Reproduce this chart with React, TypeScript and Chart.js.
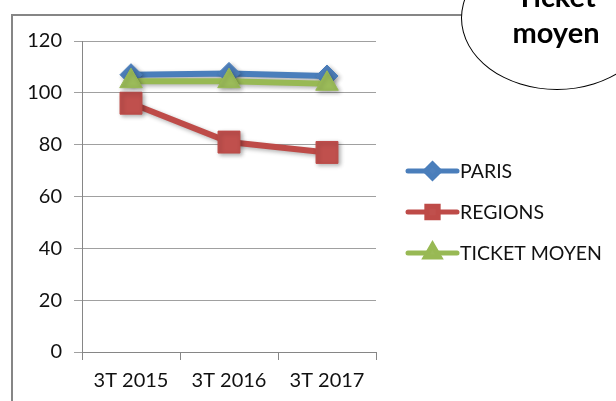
import React, { useEffect, useRef } from 'react';
import { Chart, registerables } from 'chart.js';
import { drawPoint } from 'chart.js/helpers';

Chart.register(...registerables);

const categories = ['3T 2015', '3T 2016', '3T 2017'];
const seriesNames = ['PARIS', 'REGIONS', 'TICKET MOYEN'];
const parisValues = [107, 107.5, 106.5];
const regionsValues = [96, 81, 77];
const ticketMoyenValues = [104.5, 104.5, 103.5];
const yMin = 0;
const yMax = 120;
const yStep = 20;
const calloutLines = ['Ticket', 'moyen'];

const FONT = 'Lato, "Open Sans", sans-serif';

const framePlugin = {
  id: 'frame',
  beforeDraw(chart: any) {
    const ctx = chart.ctx;
    ctx.save();
    ctx.fillStyle = '#ffffff';
    ctx.fillRect(0, 0, chart.width, chart.height);
    ctx.strokeStyle = '#868686';
    ctx.lineWidth = 2;
    ctx.beginPath();
    ctx.moveTo(12, chart.height + 5);
    ctx.lineTo(12, 15);
    ctx.lineTo(chart.width + 5, 15);
    ctx.stroke();
    ctx.restore();
  },
};

const shadowPlugin = {
  id: 'shadow',
  beforeDatasetsDraw(chart: any) {
    const ctx = chart.ctx;
    ctx.save();
    ctx.shadowColor = 'rgba(0,0,0,0.3)';
    ctx.shadowBlur = 4;
    ctx.shadowOffsetX = 2;
    ctx.shadowOffsetY = 2;
  },
  afterDatasetsDraw(chart: any) {
    chart.ctx.restore();
  },
};

const legendPlugin = {
  id: 'excelLegend',
  afterDraw(chart: any) {
    const ctx = chart.ctx;
    const x0 = 408;
    const x1 = 457;
    const baseY = 171;
    const gap = 41;
    const markerRadius = [7, 8, 8];
    chart.data.datasets.forEach((ds: any, i: number) => {
      const y = baseY + i * gap;
      ctx.save();
      ctx.strokeStyle = ds.borderColor;
      ctx.lineWidth = 5;
      ctx.lineCap = 'round';
      ctx.beginPath();
      ctx.moveTo(x0, y);
      ctx.lineTo(x1, y);
      ctx.stroke();
      ctx.fillStyle = ds.pointBackgroundColor;
      ctx.strokeStyle = ds.pointBorderColor;
      drawPoint(ctx, { pointStyle: ds.pointStyle, rotation: 0, radius: markerRadius[i], borderWidth: 1 }, (x0 + x1) / 2, y);
      ctx.fillStyle = '#111111';
      ctx.font = `19.5px ${FONT}`;
      ctx.textAlign = 'left';
      ctx.textBaseline = 'middle';
      ctx.fillText(ds.label, 460, y + 1);
      ctx.restore();
    });
  },
};

export default function App() {
  const canvasRef = useRef<HTMLCanvasElement | null>(null);

  useEffect(() => {
    if (!canvasRef.current) return;
    const gridColor = '#a0a0a0';
    const axisColor = '#868686';
    const chart = new Chart(canvasRef.current, {
      type: 'line',
      data: {
        labels: categories,
        datasets: [
          {
            label: seriesNames[0],
            data: parisValues,
            borderColor: '#4A7EBB',
            backgroundColor: '#4F81BD',
            pointBackgroundColor: '#4F81BD',
            pointBorderColor: '#4A7EBB',
            pointStyle: 'rectRot',
            pointRadius: 11,
            pointBorderWidth: 1,
            borderWidth: 6,
            tension: 0,
            order: 3,
          },
          {
            label: seriesNames[1],
            data: regionsValues,
            borderColor: '#BE4B48',
            backgroundColor: '#C0504D',
            pointBackgroundColor: '#C0504D',
            pointBorderColor: '#BE4B48',
            pointStyle: 'rect',
            pointRadius: 15.5,
            pointBorderWidth: 1,
            borderWidth: 6,
            tension: 0,
            order: 2,
          },
          {
            label: seriesNames[2],
            data: ticketMoyenValues,
            borderColor: '#98B954',
            backgroundColor: '#9BBB59',
            pointBackgroundColor: '#9BBB59',
            pointBorderColor: '#98B954',
            pointStyle: 'triangle',
            pointRadius: 13,
            pointBorderWidth: 1,
            borderWidth: 6,
            tension: 0,
            order: 1,
          },
        ],
      },
      options: {
        responsive: false,
        animation: false,
        devicePixelRatio: 1,
        layout: { padding: { top: 41, left: 0, right: 240, bottom: 0 } },
        plugins: {
          legend: { display: false },
          tooltip: { enabled: false },
        },
        elements: { line: { clip: false } as any },
        scales: {
          x: {
            offset: true,
            grid: {
              offset: true,
              drawOnChartArea: false,
              drawTicks: true,
              tickLength: 8,
              color: axisColor,
              lineWidth: 1,
            },
            border: { color: axisColor, width: 1 },
            ticks: {
              color: '#111111',
              font: { family: FONT, size: 20 },
              padding: 9,
              maxRotation: 0,
            },
            afterFit(scale: any) {
              scale.height = 49;
            },
          },
          y: {
            min: yMin,
            max: yMax,
            grid: {
              color: gridColor,
              lineWidth: 1,
              tickLength: 8,
              drawTicks: true,
            },
            border: { color: axisColor, width: 1 },
            ticks: {
              stepSize: yStep,
              color: '#111111',
              font: { family: FONT, size: 20 },
              padding: 12,
            },
            afterFit(scale: any) {
              scale.width = 82;
            },
          },
        },
      },
      plugins: [framePlugin, shadowPlugin, legendPlugin],
    });
    return () => chart.destroy();
  }, []);

  return (
    <div
      style={{
        position: 'fixed',
        left: 0,
        top: 0,
        width: 616,
        height: 401,
        overflow: 'hidden',
        background: '#ffffff',
      }}
    >
      <canvas ref={canvasRef} width={616} height={401} style={{ display: 'block', width: 616, height: 401 }} />
      <div
        style={{
          position: 'absolute',
          left: 461,
          top: -54,
          width: 192,
          height: 144,
          boxSizing: 'border-box',
          border: '1.5px solid #000000',
          borderRadius: '50%',
          background: '#ffffff',
        }}
      />
      <div
        style={{
          position: 'absolute',
          left: 456,
          top: -22,
          width: 200,
          textAlign: 'center',
          fontFamily: FONT,
          fontWeight: 700,
          fontSize: 29,
          lineHeight: '36px',
          color: '#000000',
        }}
      >
        {calloutLines.map((t) => (
          <div key={t}>{t}</div>
        ))}
      </div>
    </div>
  );
}
